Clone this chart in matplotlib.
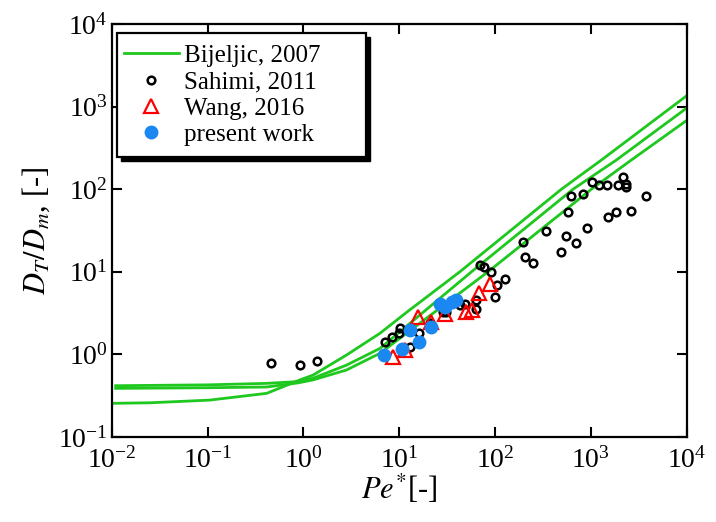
import matplotlib
matplotlib.use("Agg")
import matplotlib.pyplot as plt
from matplotlib.patches import Rectangle
import numpy as np

plt.rcParams['font.family'] = ['Liberation Serif', 'DejaVu Serif']
plt.rcParams['mathtext.fontset'] = 'stix'

# Bijeljic, 2007 (three curves)
bij1_pe = [0.01, 0.0251, 0.105, 0.415, 0.912, 1.26, 2.82, 6.31, 12.3, 43.0, 494, 1294, 10000]
bij1_d = [0.255, 0.259, 0.279, 0.337, 0.488, 0.56, 0.98, 1.80, 3.31, 10.0, 100, 226, 1352]
bij2_pe = [0.011, 0.1, 0.412, 0.89, 1.26, 2.82, 6.31, 56.9, 653, 1854, 10000]
bij2_d = [0.417, 0.427, 0.445, 0.468, 0.513, 0.74, 1.18, 10.0, 100, 226, 959]
bij3_pe = [0.011, 0.1, 0.412, 0.89, 1.26, 2.82, 6.31, 84.7, 1014, 2655, 10000]
bij3_d = [0.387, 0.394, 0.402, 0.452, 0.49, 0.646, 1.03, 10.0, 100, 226, 679]

# Sahimi, 2011
sah_pe = [0.46, 0.92, 1.39, 7.2, 8.5, 9.9, 10.3, 12.9, 16.0, 21, 28.5, 30.6, 43, 48.4, 64, 64,
          69, 76, 90, 104, 126, 101, 196, 208, 250, 337, 490, 549, 697, 575, 614, 832, 902,
          1017, 1222, 1480, 1529, 1810, 1900, 2175, 2320, 2320, 2620, 3810]
sah_d = [0.78, 0.74, 0.83, 1.42, 1.63, 1.8, 2.07, 1.24, 1.83, 2.4, 3.3, 3.28, 3.96, 4.07, 4.55, 3.54,
         12.0, 11.5, 9.86, 6.9, 8.2, 4.99, 22.8, 15.2, 12.7, 31.5, 17.2, 27.2, 22.1, 53.5, 83.6, 87.7, 33.7,
         122, 113, 113, 45.8, 53.5, 111, 140, 116, 106, 55, 83.6]

# Wang, 2016
wang_pe = [8.7, 11.5, 15.7, 21.5, 30, 50, 57, 68, 88]
wang_d = [0.93, 1.12, 2.85, 2.45, 3.1, 3.3, 3.4, 5.5, 7.2]

# present work
pw_pe = [6.9, 10.7, 13.1, 16.0, 21.4, 26.5, 30, 35.2, 39.6]
pw_d = [0.98, 1.16, 1.97, 1.42, 2.16, 4.07, 3.78, 4.34, 4.55]

green = '#1ec81e'
blue = '#1a88f0'

fig = plt.figure(figsize=(7.16, 5.22), dpi=100)
ax = fig.add_axes([0.156, 0.163, 0.803, 0.791])

ax.plot(bij1_pe, bij1_d, color=green, lw=2.0, label='Bijeljic, 2007', zorder=2)
ax.plot(bij2_pe, bij2_d, color=green, lw=2.0, zorder=2)
ax.plot(bij3_pe, bij3_d, color=green, lw=2.0, zorder=2)
ax.plot(sah_pe, sah_d, ls='none', marker='o', ms=5.5, mfc='none', mec='black', mew=1.8,
        label='Sahimi, 2011', zorder=3)
ax.plot(wang_pe, wang_d, ls='none', marker='^', ms=10, mfc='none', mec='red', mew=1.6,
        label='Wang, 2016', zorder=4)
ax.plot(pw_pe, pw_d, ls='none', marker='o', ms=10, mfc=blue, mec=blue, mew=0,
        label='present work', zorder=5)

ax.set_xscale('log')
ax.set_yscale('log')
ax.set_xlim(1e-2, 1e4)
ax.set_ylim(1e-1, 1e4)
ax.minorticks_off()
ax.set_xticks([1e-2, 1e-1, 1e0, 1e1, 1e2, 1e3, 1e4])
ax.set_yticks([1e-1, 1e0, 1e1, 1e2, 1e3, 1e4])
ax.tick_params(which='major', direction='in', length=7, width=1.5, top=True, right=True,
               labelsize=20)
ax.tick_params(axis='x', pad=7)
ax.tick_params(axis='y', pad=3)
for s in ax.spines.values():
    s.set_linewidth(1.6)

ax.set_xlabel(r'$Pe^{*}$[-]', fontsize=22, labelpad=0)
ax.set_ylabel(r'$D_T/D_m$, [-]', fontsize=22, labelpad=4)

# legend frame with black shadow
fx, fy, fw, fh = 0.010, 0.678, 0.433, 0.300
shadow = Rectangle((fx + 0.007, fy - 0.0097), fw, fh, transform=ax.transAxes,
                   facecolor='black', edgecolor='black', zorder=8)
frame = Rectangle((fx, fy), fw, fh, transform=ax.transAxes,
                  facecolor='white', edgecolor='black', lw=1.6, zorder=9)
ax.add_patch(shadow)
ax.add_patch(frame)
leg = ax.legend(loc='upper left', bbox_to_anchor=(0.008, 0.968), frameon=False,
                fontsize=18, handlelength=2.2, handletextpad=0.2, labelspacing=0.15,
                borderpad=0.3, borderaxespad=0)
leg.set_zorder(10)

fig.savefig('out.png', dpi=100)
